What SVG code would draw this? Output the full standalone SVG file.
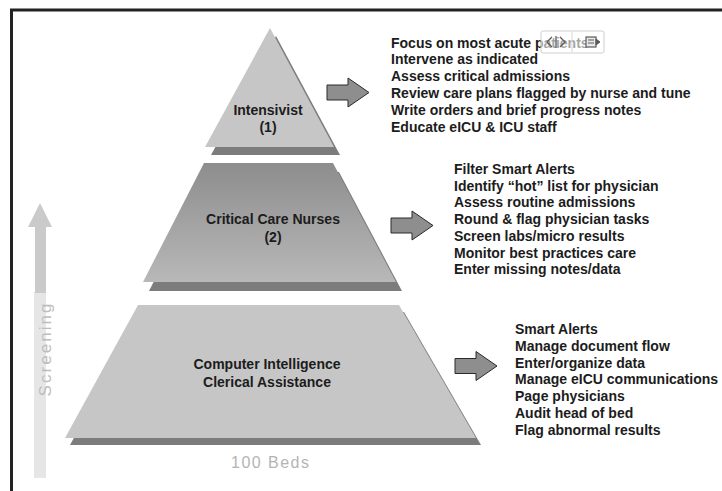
<svg xmlns="http://www.w3.org/2000/svg" width="722" height="491" viewBox="0 0 722 491">
  <style>
    .frame { stroke: #222; stroke-width: 3; fill: none; }
    .shadow { fill: #7c7c7c; }
    .tier-light { fill: #c6c6c6; }
    .label { font-family: "Liberation Sans", Arial, sans-serif; font-weight: bold; font-size: 14px; fill: #1c1c1c; }
    .node-label { text-anchor: middle; }
    .duty { font-family: "Liberation Sans", Arial, sans-serif; font-weight: bold; font-size: 14px; fill: #1c1c1c; }
    .block-arrow { fill: #8e8e8e; stroke: #2a2a2a; stroke-width: 1; stroke-linejoin: miter; }
    .axis-text { font-family: "Liberation Sans", Arial, sans-serif; font-size: 17px; fill: #bdbdbd; }
  </style>
  <defs>
    <linearGradient id="nurseFill" x1="0" y1="0" x2="0" y2="1">
      <stop offset="0" stop-color="#8d8d8d"/>
      <stop offset="1" stop-color="#b8b8b8"/>
    </linearGradient>
    <!-- block arrow, anchored at its left middle -->
    <path id="blockArrow" d="M0,-7.5 H21 V-14.5 L42,0 L21,14.5 V7.5 H0 Z"/>
  </defs>

  <rect width="722" height="491" fill="#ffffff"/>

  <!-- frame -->
  <path class="frame" d="M11.5,491 V10 H722"/>

  <!-- screening axis -->
  <g id="screening-axis">
    <rect x="34" y="292" width="12" height="186" fill="#e6e6e6"/>
    <rect x="35" y="226" width="11" height="67" fill="#cacaca"/>
    <polygon points="40,203 52,227 28,227" fill="#cacaca"/>
    <text class="axis-text" transform="translate(51,350) rotate(-90)" text-anchor="middle" textLength="93" lengthAdjust="spacing">Screening</text>
  </g>

  <!-- tier 1: intensivist -->
  <g id="tier-intensivist">
    <polygon class="shadow" points="276,36 340,155 211,155"/>
    <polygon class="tier-light" points="270,28 334,147 205,147"/>
    <text class="label node-label" x="268" y="115">Intensivist</text>
    <text class="label node-label" x="268" y="132">(1)</text>
  </g>

  <!-- tier 2: critical care nurses -->
  <g id="tier-nurses">
    <polygon class="shadow" points="210,172 339,172 402,291 149,291"/>
    <polygon fill="url(#nurseFill)" points="204,163 333,163 396,282 143,282"/>
    <text class="label node-label" x="273" y="224">Critical Care Nurses</text>
    <text class="label node-label" x="273" y="242">(2)</text>
  </g>

  <!-- tier 3: computer intelligence / clerical -->
  <g id="tier-computer">
    <polygon class="shadow" points="143,312 404,312 481,445 70,445"/>
    <polygon class="tier-light" points="138,305 399,305 476,438 65,438"/>
    <text class="label node-label" x="267" y="369">Computer Intelligence</text>
    <text class="label node-label" x="267" y="387">Clerical Assistance</text>
  </g>

  <!-- base caption -->
  <g id="beds-caption">
    <text x="270" y="468" text-anchor="middle" font-family="Liberation Sans, Arial, sans-serif" font-size="16" fill="#b4b4b4" textLength="78" lengthAdjust="spacing">100 Beds</text>
  </g>

  <!-- connectors from each tier to its duties -->
  <g id="connectors">
    <use href="#blockArrow" class="block-arrow" x="327" y="92.5"/>
    <use href="#blockArrow" class="block-arrow" x="391" y="225.5"/>
    <use href="#blockArrow" class="block-arrow" x="455" y="366"/>
  </g>

  <!-- duties of the intensivist -->
  <g id="duties-intensivist" class="duty">
    <text x="391" y="47.5">Focus on most acute patients</text>
    <text x="391" y="64.3">Intervene as indicated</text>
    <text x="391" y="81.1">Assess critical admissions</text>
    <text x="391" y="97.9">Review care plans flagged by nurse and tune</text>
    <text x="391" y="114.7">Write orders and brief progress notes</text>
    <text x="391" y="131.5">Educate eICU &amp; ICU staff</text>
  </g>

  <!-- small floating toolbar over the first duty line -->
  <g id="toolbar">
    <rect x="541" y="31" width="63" height="22" rx="2" fill="#ffffff" fill-opacity="0.6" stroke="#cfcfcf" stroke-width="1"/>
    <line x1="572" y1="32" x2="572" y2="52" stroke="#d6d6d6" stroke-width="1"/>
    <path d="M552,37 L547,42 L552,47 M556,36 V48 M560,37 L565,42 L560,47" fill="none" stroke="#5a5a5a" stroke-width="1.3"/>
    <rect x="586" y="37" width="10" height="10" fill="#e8e8e8" stroke="#5a5a5a" stroke-width="1.2"/>
    <path d="M588,40 H594 M588,43 H594 M596,39 L600,42 L596,45 Z" fill="#5a5a5a" stroke="#5a5a5a" stroke-width="1"/>
  </g>

  <!-- duties of the critical care nurses -->
  <g id="duties-nurses" class="duty">
    <text x="454" y="174">Filter Smart Alerts</text>
    <text x="454" y="190.7">Identify “hot” list for physician</text>
    <text x="454" y="207.4">Assess routine admissions</text>
    <text x="454" y="224.1">Round &amp; flag physician tasks</text>
    <text x="454" y="240.8">Screen labs/micro results</text>
    <text x="454" y="257.5">Monitor best practices care</text>
    <text x="454" y="274.2">Enter missing notes/data</text>
  </g>

  <!-- duties of the computer / clerical tier -->
  <g id="duties-computer" class="duty">
    <text x="515" y="334">Smart Alerts</text>
    <text x="515" y="350.8">Manage document flow</text>
    <text x="515" y="367.6">Enter/organize data</text>
    <text x="515" y="384.4">Manage eICU communications</text>
    <text x="515" y="401.2">Page physicians</text>
    <text x="515" y="418">Audit head of bed</text>
    <text x="515" y="434.8">Flag abnormal results</text>
  </g>
</svg>
